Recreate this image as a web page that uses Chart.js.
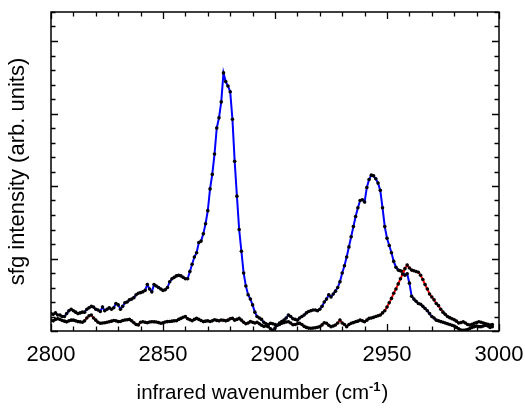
<!DOCTYPE html>
<html>
<head>
<meta charset="utf-8">
<script src="https://cdn.jsdelivr.net/npm/chart.js@4.4.1/dist/chart.umd.min.js"></script>
<style>
  html, body { margin: 0; padding: 0; background: #fff; }
  #wrap { width: 525px; height: 408px; }
</style>
</head>
<body>
<div id="wrap"><canvas id="c" width="525" height="408"></canvas></div>
<script>
// ---- data ----
const wavenumbers = [
  2800,2801,2802,2803,2804,2805,2806,2807,2808,2809,
  2810,2811,2812,2813,2814,2815,2816,2817,2818,2819,
  2820,2821,2822,2823,2824,2825,2826,2827,2828,2829,
  2830,2831,2832,2833,2834,2835,2836,2837,2838,2839,
  2840,2841,2842,2843,2844,2845,2846,2847,2848,2849,
  2850,2851,2852,2853,2854,2855,2856,2857,2858,2859,
  2860,2861,2862,2863,2864,2865,2866,2867,2868,2869,
  2870,2871,2872,2873,2874,2875,2876,2877,2878,2879,
  2880,2881,2882,2883,2884,2885,2886,2887,2888,2889,
  2890,2891,2892,2893,2894,2895,2896,2897,2898,2899,
  2900,2901,2902,2903,2904,2905,2906,2907,2908,2909,
  2910,2911,2912,2913,2914,2915,2916,2917,2918,2919,
  2920,2921,2922,2923,2924,2925,2926,2927,2928,2929,
  2930,2931,2932,2933,2934,2935,2936,2937,2938,2939,
  2940,2941,2942,2943,2944,2945,2946,2947,2948,2949,
  2950,2951,2952,2953,2954,2955,2956,2957,2958,2959,
  2960,2961,2962,2963,2964,2965,2966,2967,2968,2969,
  2970,2971,2972,2973,2974,2975,2976,2977,2978,2979,
  2980,2981,2982,2983,2984,2985,2986,2987,2988,2989,
  2990,2991,2992,2993,2994,2995,2996,2997
];

const blueSpectrum = [
  12,11.5,12.5,11,11,10,10,12,14,15,
  14,13,12,12.5,13,13,15,16,17,16.5,
  15,14.5,13.5,16.5,14,15,16,15,16,19,
  18,15,17,19.5,20,21.5,22,23,25,26,
  26.5,27,28,32,29,27,32,31,30,29,
  28,28.5,30,34,36,37,38,38.5,38,37,
  36,36,41,46,51,54,61,62,67,74,
  83,98,108,122,140,147,158,178,172,169,
  165,146,117,93,70,55,40,31,25,22,
  18,13,10,9,8,6,5,3,1.5,0.5,
  2,4,5.5,6.5,7.5,9,11,10,8.5,8,
  7.5,9,10,11,12.5,13.5,14,14.5,14.5,14,
  15,17,20,22,25,23.5,25.5,27.5,30,34,
  40,45,51,58,65,72,79,85,90,90.5,
  89,99,104.5,107.5,107,105,102,97,85,72,
  64,59,54,48,44,42,41.5,41,38.5,39.5,
  33,24,22,20.5,19,18.5,17,15.5,14,12,
  10,9,7.5,7,6.5,6,5.5,5,4.5,4,
  3.5,2.5,1.5,0.7,0.5,0.7,1,1.8,2.5,3,
  3.5,3,3,3.5,4,3.5,2.5,3
];

const redSpectrum = [
  7.5,7,8,8.5,8,7.2,6.8,6.3,7,7.5,
  7.5,7,6.5,6.3,6,7,9,10.5,11,9,
  7.5,6,5.3,5.5,5.7,6,6.4,6.8,7.2,7,
  6.5,6.6,7.2,7.6,7.8,8,7,5.7,4.5,4.2,
  6,6.4,6,5.7,6.2,6.4,6.3,6.2,5.8,5.3,
  5.6,6.2,6.5,6.6,6.8,7,7.1,8,8.7,9.5,
  9.9,8.5,7.8,7.1,8,8.7,8,7.2,6.5,6.8,
  7,6.6,7,7.8,7.3,7,7.6,7.4,7,7.5,
  8.5,8.8,7.5,8,8.7,7.5,6,5,5.5,6.5,
  6,5.5,6,5,4,3.2,3.5,4.5,5.3,5,
  4.5,4,4.5,5.3,5.8,6.2,6.4,5.5,4.3,4.5,
  5,5.3,4.5,3.2,2.5,2,1.9,2,2.2,2.6,
  3,4.2,5.7,5.3,4,3,3.5,4.1,5.5,7.6,
  5.5,4.5,3,4.5,5.3,5.8,6.4,6.8,7.6,7,
  6.4,7.5,8.7,9,9.4,10,10.5,11,12.5,14,
  16.5,19.5,22.5,26,29,32.5,36,39.3,43,45.5,
  43.5,42,41.6,41,40.5,38.5,35.5,32,29,25.5,
  23.5,21.5,19,17.5,15,13,11.5,10,9.2,8.5,
  7.8,6.8,5.5,5.8,6.3,5.5,4.5,4.1,4.6,5.3,
  5.8,6.4,6,5.5,5,4.6,4.1,4.5
];

const xLabelValues = [2800, 2850, 2900, 2950, 3000];
const xTitleMain = 'infrared wavenumber (cm';
const xTitleSup = '-1';
const xTitleEnd = ')';
const yTitle = 'sfg intensity (arb. units)';

// ---- chart ----
const FONT = '"Liberation Sans", Arial, Helvetica, sans-serif';

function toPoints(ys) { return wavenumbers.map((x, i) => ({ x: x, y: ys[i] })); }

const framePlugin = {
  id: 'frameTicks',
  afterDatasetsDraw(chart) {
    const { ctx, chartArea: a, scales } = chart;
    const xs = scales.x, ys = scales.y;
    ctx.save();
    ctx.strokeStyle = '#000';
    ctx.lineWidth = 1.3;
    ctx.beginPath();
    xs.ticks.forEach(t => {
      const px = Math.round(xs.getPixelForValue(t.value)) + 0.5;
      const L = (t.value % 50 === 0) ? 7 : 4.5;
      ctx.moveTo(px, a.bottom); ctx.lineTo(px, a.bottom - L);
      ctx.moveTo(px, a.top); ctx.lineTo(px, a.top + L);
    });
    ys.ticks.forEach(t => {
      const py = Math.round(ys.getPixelForValue(t.value)) + 0.5;
      const L = (t.value % 50 === 0) ? 7 : 4.5;
      ctx.moveTo(a.left, py); ctx.lineTo(a.left + L, py);
      ctx.moveTo(a.right, py); ctx.lineTo(a.right - L, py);
    });
    ctx.stroke();
    ctx.lineWidth = 1.5;
    ctx.strokeRect(a.left, a.top, a.right - a.left, a.bottom - a.top);

    // x-axis title with bold superscript
    ctx.fillStyle = '#000';
    ctx.textBaseline = 'alphabetic';
    const mainFont = '20.5px ' + FONT;
    const supFont = 'bold 13px ' + FONT;
    ctx.font = mainFont; const w1 = ctx.measureText(xTitleMain).width; const w3 = ctx.measureText(xTitleEnd).width;
    ctx.font = supFont; const w2 = ctx.measureText(xTitleSup).width;
    const total = w1 + w2 + w3 + 1;
    let cx = chart.width / 2 - total / 2;
    const base = 399;
    ctx.font = mainFont; ctx.textAlign = 'left';
    ctx.fillText(xTitleMain, cx, base); cx += w1;
    ctx.font = supFont; ctx.fillText(xTitleSup, cx, base - 8); cx += w2 + 1;
    ctx.font = mainFont; ctx.fillText(xTitleEnd, cx, base);
    ctx.restore();
  }
};

new Chart(document.getElementById('c'), {
  type: 'scatter',
  data: {
    datasets: [
      {
        label: 'spectrum 2',
        data: toPoints(redSpectrum),
        showLine: true,
        borderColor: '#ff0000',
        borderWidth: 2,
        pointRadius: 1.8,
        pointBackgroundColor: '#000',
        pointBorderColor: '#000',
        pointBorderWidth: 0,
        tension: 0
      },
      {
        label: 'spectrum 1',
        data: toPoints(blueSpectrum),
        showLine: true,
        borderColor: '#0000ff',
        borderWidth: 2,
        pointRadius: 1.8,
        pointBackgroundColor: '#000',
        pointBorderColor: '#000',
        pointBorderWidth: 0,
        tension: 0
      }
    ]
  },
  options: {
    responsive: false,
    animation: false,
    events: [],
    layout: { padding: { top: 12, right: 26, bottom: 0, left: 0 } },
    plugins: { legend: { display: false }, tooltip: { enabled: false } },
    scales: {
      x: {
        type: 'linear',
        min: 2800, max: 3000,
        grid: { display: false, drawTicks: false },
        border: { display: false },
        ticks: {
          stepSize: 10,
          autoSkip: false,
          maxRotation: 0,
          padding: 11,
          color: '#000',
          font: { family: FONT, size: 22 },
          callback: (v) => xLabelValues.includes(v) ? String(v) : ''
        },
        afterFit: (s) => { s.height = 77; s.paddingLeft = 0; s.paddingRight = 0; }
      },
      y: {
        type: 'linear',
        min: 0, max: 220,
        grid: { display: false, drawTicks: false },
        border: { display: false },
        ticks: { stepSize: 10, display: false },
        title: {
          display: true,
          text: yTitle,
          color: '#000',
          font: { family: FONT, size: 22, lineHeight: 1 },
          padding: { top: 7, bottom: 0 }
        },
        afterFit: (s) => { s.width = 51; s.paddingTop = 0; s.paddingBottom = 0; }
      }
    }
  },
  plugins: [framePlugin]
});
</script>
</body>
</html>
